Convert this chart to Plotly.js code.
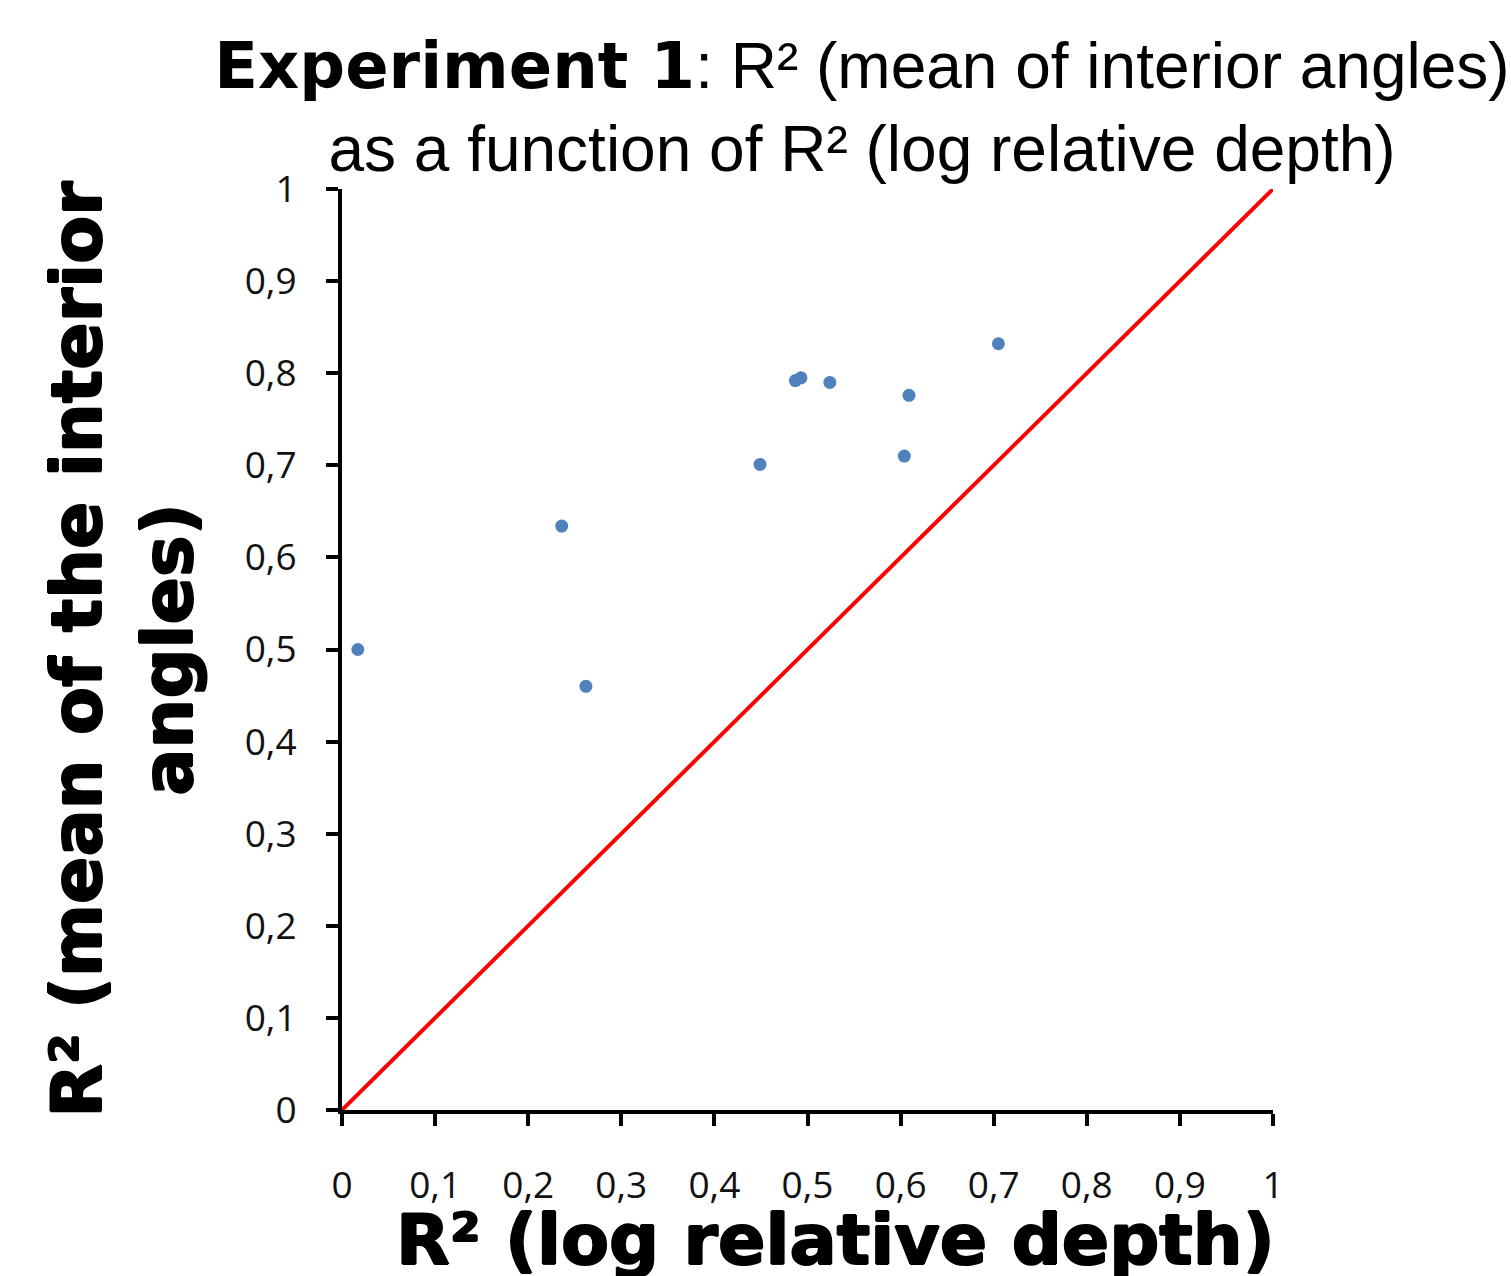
<!DOCTYPE html>
<html>
<head>
<meta charset="utf-8">
<script src="https://cdn.plot.ly/plotly-3.0.1.min.js"></script>
<style>
  html, body { margin: 0; padding: 0; background: #fff; }
  #chart { width: 1511px; height: 1276px; }
</style>
</head>
<body>
<div id="chart"></div>
<script>
// R² (log relative depth) per participant
const r2LogRelativeDepth = [0.017, 0.236, 0.262, 0.449, 0.487, 0.493, 0.524, 0.609, 0.604, 0.705];
// R² (mean of the interior angles) per participant
const r2MeanInteriorAngles = [0.500, 0.634, 0.460, 0.701, 0.792, 0.795, 0.790, 0.776, 0.710, 0.832];
// identity line y = x
const identityX = [0, 1];
const identityY = [0, 1];

const titleLine1 = "<span style='font-family:\"DejaVu Sans\"'><b>Experiment 1</b></span>: R² (mean of interior angles)";
const titleLine2 = "as a function of R² (log relative depth)";
const xTitle = "R² (log relative depth)";
const yTitle = "R² (mean of the interior<br>angles)";

const heavy = "1px 0 0 #000, -1px 0 0 #000, 0 1px 0 #000, 0 -1px 0 #000";

const traces = [
  {
    x: identityX, y: identityY,
    type: 'scatter', mode: 'lines',
    line: { color: '#ff0000', width: 4 },
    hoverinfo: 'skip', showlegend: false
  },
  {
    x: r2LogRelativeDepth, y: r2MeanInteriorAngles,
    type: 'scatter', mode: 'markers',
    marker: { color: '#4f81bd', size: 13 },
    showlegend: false
  }
];

const tickFont = { family: 'Open Sans, sans-serif', size: 37, color: '#111' };

const layout = {
  width: 1511, height: 1276,
  paper_bgcolor: '#ffffff', plot_bgcolor: '#ffffff',
  separators: ', ',
  margin: { l: 342, r: 238, t: 189, b: 166, pad: 0 },
  showlegend: false,
  title: {
    text: titleLine1 + '<br>' + titleLine2,
    font: { family: 'Liberation Sans, Arial, sans-serif', size: 64, color: '#000' },
    x: 862 / 1511, xanchor: 'center', xref: 'container',
    y: 1 - 88 / 1276, yanchor: 'top', yref: 'container'
  },
  annotations: [
    {
      text: xTitle, xref: 'paper', yref: 'paper',
      x: (835 - 342) / 931, y: -(1240 - 1110) / 921,
      xanchor: 'center', yanchor: 'middle', showarrow: false,
      font: { family: 'DejaVu Sans, sans-serif', size: 70, weight: 'bold', color: '#000', shadow: heavy }
    }
  ],
  xaxis: {
    range: [0, 1], dtick: 0.1, tick0: 0,
    showgrid: false, zeroline: false,
    showline: true, linecolor: '#000', linewidth: 4,
    ticks: 'outside', ticklen: 12, tickwidth: 4, tickcolor: '#000',
    tickfont: tickFont, ticklabelstandoff: 28,
    fixedrange: true
  },
  yaxis: {
    range: [0, 1], dtick: 0.1, tick0: 0,
    showgrid: false, zeroline: false,
    showline: true, linecolor: '#000', linewidth: 4,
    ticks: 'outside', ticklen: 12, tickwidth: 4, tickcolor: '#000',
    tickfont: tickFont, ticklabelstandoff: 22,
    fixedrange: true,
    title: {
      text: yTitle,
      font: { family: 'DejaVu Sans, sans-serif', size: 70, weight: 'bold', color: '#000', shadow: heavy },
      standoff: 30
    }
  }
};

Plotly.newPlot('chart', traces, layout, { displayModeBar: false, responsive: false });
</script>
</body>
</html>
